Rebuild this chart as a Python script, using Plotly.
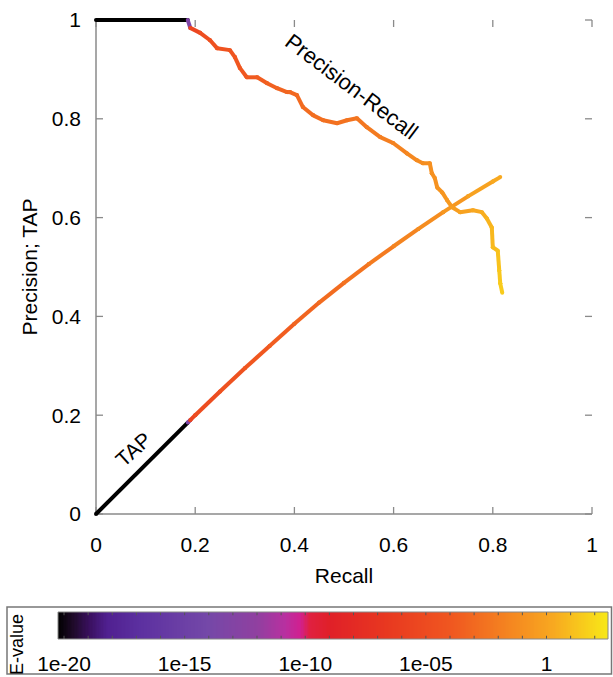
import numpy as np
import plotly.graph_objects as go
from plotly.colors import sample_colorscale

W, H = 613, 677

# ---------------- data ----------------
pr_recall = [0.0, 0.185, 0.190, 0.210, 0.230, 0.244, 0.270, 0.280, 0.290, 0.304, 0.325,
             0.345, 0.365, 0.385, 0.391, 0.405, 0.417, 0.438, 0.458, 0.486, 0.506,
             0.526, 0.546, 0.573, 0.599, 0.627, 0.647, 0.659, 0.673, 0.677, 0.683,
             0.688, 0.698, 0.708, 0.718, 0.734, 0.760, 0.778, 0.788, 0.798, 0.800,
             0.810, 0.813, 0.815, 0.819]
pr_precision = [1.0, 1.0, 0.984, 0.974, 0.959, 0.943, 0.939, 0.925, 0.903, 0.884, 0.884,
                0.872, 0.862, 0.854, 0.854, 0.848, 0.824, 0.807, 0.797, 0.791, 0.797,
                0.801, 0.783, 0.763, 0.751, 0.730, 0.716, 0.710, 0.710, 0.690, 0.680,
                0.661, 0.651, 0.635, 0.621, 0.611, 0.615, 0.611, 0.598, 0.580, 0.540,
                0.533, 0.493, 0.467, 0.448]
pr_logE = [-21.0, -20.5, -6.0, -4.8, -4.6, -4.4, -4.2, -4.1, -4.0, -3.9, -3.7,
           -3.5, -3.3, -3.2, -3.1, -3.0, -2.9, -2.8, -2.7, -2.6, -2.5,
           -2.4, -2.2, -2.0, -1.8, -1.5, -1.3, -1.2, -1.0, -0.95, -0.9,
           -0.85, -0.7, -0.6, -0.4, -0.2, 0.1, 0.4, 0.6, 0.8, 0.9,
           1.1, 1.3, 1.45, 1.6]

tap_recall = [0.0, 0.185, 0.190, 0.200, 0.250, 0.300, 0.350, 0.400, 0.450, 0.500,
              0.550, 0.600, 0.650, 0.700, 0.750, 0.800, 0.815]
tap_value = [0.0, 0.185, 0.190, 0.200, 0.248, 0.295, 0.340, 0.385, 0.428, 0.468,
             0.506, 0.542, 0.577, 0.611, 0.643, 0.673, 0.682]
tap_logE = [-21.0, -20.5, -6.0, -5.0, -4.6, -4.2, -3.8, -3.4, -3.0, -2.7,
            -2.3, -1.8, -1.4, -0.9, -0.3, 0.2, 0.4]

x_ticks = [0, 0.2, 0.4, 0.6, 0.8, 1]
x_ticklabels = ["0", "0.2", "0.4", "0.6", "0.8", "1"]
y_ticks = [0, 0.2, 0.4, 0.6, 0.8, 1]
y_ticklabels = ["0", "0.2", "0.4", "0.6", "0.8", "1"]
cb_ticks = [-20, -15, -10, -5, 0]
cb_ticklabels = ["1e-20", "1e-15", "1e-10", "1e-05", "1"]
cb_minor = list(range(-20, 3))

# ---------------- style ----------------
L_MIN, L_MAX = -20.25, 2.55
cscale = [
    [0.0, "#000000"], [0.027, "#1e0a28"], [0.058, "#3a1060"], [0.089, "#502090"],
    [0.149, "#5c30a0"], [0.271, "#7448a8"], [0.362, "#9040a0"], [0.413, "#b830a0"],
    [0.44, "#d02090"], [0.458, "#e02040"], [0.495, "#e02028"], [0.598, "#e83820"],
    [0.718, "#f05820"], [0.809, "#f48020"], [0.9, "#f8a820"], [1.0, "#f8e818"],
]
FONT = "Liberation Sans, Arial, sans-serif"
AX_COL = "#8a8a8a"
FS = 21
PAD = 0.012          # range padding so thick lines at the edges are not clipped
X0PX, X1PX = 96, 592  # pixel positions of recall 0 and 1
Y0PX, Y1PX = 514, 20  # pixel positions of precision 0 and 1


def col(L):
    t = min(max((L - L_MIN) / (L_MAX - L_MIN), 0.0), 1.0)
    return sample_colorscale(cscale, [t])[0]


def px_x(p):
    return p / W


def px_y(p):
    return 1 - p / H


fig = go.Figure()


def add_curve(xs, ys, ls):
    for i in range(len(xs) - 1):
        c = col(0.5 * (ls[i] + ls[i + 1]))
        fig.add_trace(go.Scatter(
            x=[xs[i], xs[i + 1]], y=[ys[i], ys[i + 1]], mode="lines+markers",
            line=dict(color=c, width=4), marker=dict(color=c, size=4),
            cliponaxis=False, showlegend=False, hoverinfo="skip",
            xaxis="x", yaxis="y"))


add_curve(tap_recall, tap_value, tap_logE)
add_curve(pr_recall, pr_precision, pr_logE)

# colorbar strip
cb_x = np.linspace(L_MIN, L_MAX, 400)
fig.add_trace(go.Heatmap(
    x=cb_x, y=[0], z=[cb_x], colorscale=cscale, zmin=L_MIN, zmax=L_MAX,
    showscale=False, hoverinfo="skip", xaxis="x2", yaxis="y2"))

xs_px = (X1PX - X0PX)
ys_px = (Y0PX - Y1PX)
dx = PAD * xs_px
dy = PAD * ys_px
main_x_dom = [px_x(X0PX - dx), px_x(X1PX + dx)]
main_y_dom = [px_y(Y0PX + dy), px_y(Y1PX - dy)]

fig.update_layout(
    width=W, height=H, margin=dict(l=0, r=0, t=0, b=0, autoexpand=False),
    paper_bgcolor="white", plot_bgcolor="white",
    font=dict(family=FONT, size=FS, color="black"),
    xaxis=dict(domain=main_x_dom, range=[-PAD, 1 + PAD], tickvals=x_ticks,
               ticktext=x_ticklabels, ticks="", showline=False, showgrid=False,
               zeroline=False, ticklabelstandoff=10, anchor="y", automargin=False,
               title=dict(text="Recall", standoff=13, font=dict(size=FS))),
    yaxis=dict(domain=main_y_dom, range=[-PAD, 1 + PAD], tickvals=y_ticks,
               ticktext=y_ticklabels, ticks="", showline=False, showgrid=False,
               zeroline=False, ticklabelstandoff=8, anchor="x", automargin=False,
               title=dict(text="Precision; TAP", standoff=8, font=dict(size=FS))),
    xaxis2=dict(domain=[px_x(58), px_x(608)], range=[L_MIN, L_MAX], anchor="y2",
                tickvals=cb_ticks, ticktext=cb_ticklabels, ticks="", showline=False,
                showgrid=False, zeroline=False, ticklabelstandoff=10, automargin=False,
                tickfont=dict(size=FS)),
    yaxis2=dict(domain=[px_y(639), px_y(612)], range=[-0.5, 0.5], anchor="x2",
                showticklabels=False, ticks="", showgrid=False, zeroline=False,
                showline=False, automargin=False),
)

shapes = []
# main axis lines (left and bottom only)
shapes.append(dict(type="line", xref="x", yref="y", x0=0, x1=0, y0=0, y1=1,
                   line=dict(color=AX_COL, width=1.5), layer="below"))
shapes.append(dict(type="line", xref="x", yref="y", x0=0, x1=1, y0=0, y1=0,
                   line=dict(color=AX_COL, width=1.5), layer="below"))
# inward ticks on all four sides
tlx = 7.0 / xs_px
tly = 7.0 / ys_px
for v in x_ticks:
    shapes.append(dict(type="line", xref="x", yref="y", x0=v, x1=v, y0=0, y1=tly,
                       line=dict(color=AX_COL, width=1.3), layer="below"))
    shapes.append(dict(type="line", xref="x", yref="y", x0=v, x1=v, y0=1, y1=1 - tly,
                       line=dict(color=AX_COL, width=1.3), layer="below"))
for v in y_ticks:
    shapes.append(dict(type="line", xref="x", yref="y", x0=0, x1=tlx, y0=v, y1=v,
                       line=dict(color=AX_COL, width=1.3), layer="below"))
    shapes.append(dict(type="line", xref="x", yref="y", x0=1, x1=1 - tlx, y0=v, y1=v,
                       line=dict(color=AX_COL, width=1.3), layer="below"))
# colorbar minor ticks (top and bottom, inside)
for v in cb_minor:
    shapes.append(dict(type="line", xref="x2", yref="y2 domain", x0=v, x1=v, y0=0, y1=0.12,
                       line=dict(color="#555555", width=1)))
    shapes.append(dict(type="line", xref="x2", yref="y2 domain", x0=v, x1=v, y0=0.88, y1=1,
                       line=dict(color="#555555", width=1)))
# colorbar border
shapes.append(dict(type="rect", xref="x2 domain", yref="y2 domain", x0=0, x1=1, y0=0, y1=1,
                   line=dict(color="#888888", width=1)))
# legend box
shapes.append(dict(type="rect", xref="paper", yref="paper",
                   x0=px_x(7), x1=px_x(611.5), y0=px_y(674), y1=px_y(607),
                   line=dict(color="#777777", width=1.5)))
fig.update_layout(shapes=shapes)

fig.add_annotation(text="Precision-Recall", x=0.515, y=0.865, xref="x", yref="y",
                   xanchor="center", yanchor="middle",
                   showarrow=False, textangle=37, font=dict(size=22))
fig.add_annotation(text="TAP", x=0.075, y=0.13, xref="x", yref="y",
                   xanchor="center", yanchor="middle",
                   showarrow=False, textangle=-42, font=dict(size=FS))
fig.add_annotation(text="E-value", x=px_x(17), y=px_y(645), xref="paper", yref="paper",
                   xanchor="center", yanchor="middle",
                   showarrow=False, textangle=-90, font=dict(size=18))

fig.write_html("out.html")
